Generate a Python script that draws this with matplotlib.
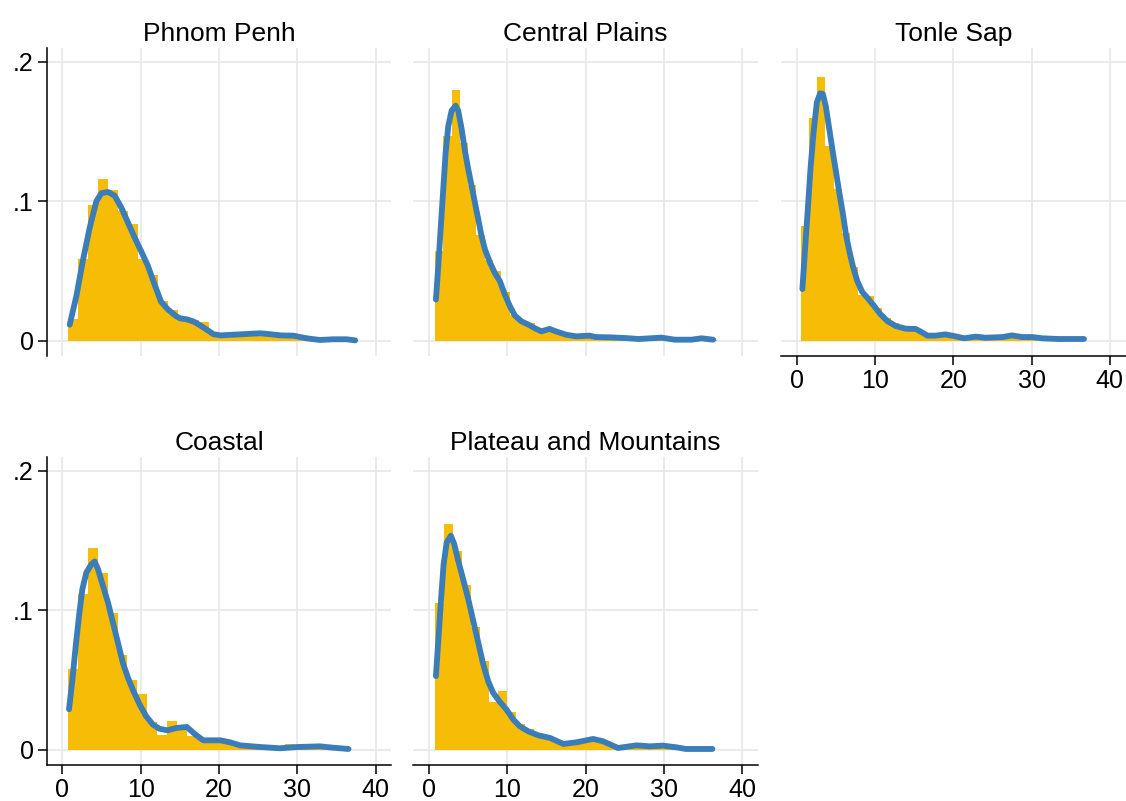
import numpy as np
import matplotlib
matplotlib.use("Agg")
import matplotlib.pyplot as plt

plt.rcParams['font.family'] = ['Liberation Sans', 'DejaVu Sans']

# histogram bins: first edge, bin width, bar heights (density)
pp_start, pp_width = 0.75, 1.28
pp_bars = [0.0156, 0.0588, 0.097, 0.116, 0.108, 0.093, 0.0835, 0.0588, 0.0468, 0.0285,
           0.022, 0.017, 0.0145, 0.0137, 0.005, 0.004, 0.004, 0.005, 0.005, 0.006,
           0.006, 0.005, 0.004, 0.003, 0.001, 0.0005, 0.0005, 0.0005]
pp_kx = [0.94, 1.79, 2.64, 3.49, 4.34, 4.98, 5.83, 6.68, 7.53, 8.38, 9.23, 10.08, 10.94,
         11.8, 12.6, 13.5, 14.55, 15.06, 15.9, 16.77, 17.6, 18.5, 19.3, 20.2, 21.9, 23.6,
         25.3, 26.6, 27.8, 29.5, 31.2, 32.9, 34.6, 36.3, 37.4]
pp_ky = [0.0115, 0.032, 0.058, 0.081, 0.100, 0.1058, 0.1067, 0.104, 0.0955, 0.0847, 0.074,
         0.064, 0.0535, 0.040, 0.028, 0.0223, 0.0175, 0.016, 0.0153, 0.0137, 0.011, 0.0077,
         0.0046, 0.0038, 0.0043, 0.0048, 0.0053, 0.0046, 0.0038, 0.0036, 0.0017, 0.0005,
         0.001, 0.001, 0.0002]

cp_start, cp_width = 0.77, 1.06
cp_bars = [0.064, 0.1465, 0.180, 0.142, 0.112, 0.076, 0.058, 0.050, 0.035, 0.0187,
           0.0139, 0.013, 0.008, 0.007, 0.006, 0.005, 0.004, 0.003, 0.003, 0.003,
           0.002, 0.002, 0.002, 0.002, 0.0015, 0.0015, 0.001, 0.002, 0.001, 0.0005,
           0.0005, 0.001, 0.001, 0.0005]
cp_kx = [0.89, 1.19, 1.49, 1.83, 2.13, 2.47, 2.89, 3.4, 3.74, 4.17, 4.6, 5.02, 5.45, 5.87,
         6.3, 6.72, 7.15, 7.8, 8.4, 9.06, 9.7, 10.34, 10.98, 11.8, 12.7, 13.5, 14.35, 15.4,
         16.2, 17.5, 18.8, 20.5, 21.3, 23.0, 25.1, 26.8, 29.7, 31.4, 33.5, 34.8, 36.3]
cp_ky = [0.0295, 0.0535, 0.080, 0.109, 0.135, 0.154, 0.165, 0.1686, 0.165, 0.152, 0.136,
         0.123, 0.111, 0.099, 0.087, 0.075, 0.0655, 0.056, 0.0487, 0.0427, 0.033, 0.0247,
         0.018, 0.0139, 0.0115, 0.009, 0.0067, 0.0084, 0.0067, 0.0043, 0.0031, 0.0036,
         0.0026, 0.0024, 0.0019, 0.0012, 0.0022, 0.0007, 0.0007, 0.0017, 0.0007]

ts_start, ts_width = 0.56, 1.04
ts_bars = [0.082, 0.160, 0.189, 0.140, 0.109, 0.0775, 0.053, 0.033, 0.032, 0.0237,
           0.016, 0.013, 0.0107, 0.0107, 0.008, 0.003, 0.003, 0.003, 0.003, 0.002,
           0.002, 0.002, 0.002, 0.002, 0.002, 0.003, 0.003, 0.002, 0.002, 0.001,
           0.001, 0.001, 0.001, 0.001, 0.001]
ts_kx = [0.73, 1.07, 1.42, 1.76, 2.15, 2.58, 3.0, 3.35, 3.73, 4.16, 4.6, 5.0, 5.45, 5.88,
         6.3, 6.74, 7.17, 7.73, 8.37, 9.0, 9.87, 10.7, 11.6, 12.66, 13.9, 15.2, 16.0, 16.7,
         17.7, 19.0, 20.3, 21.4, 22.85, 24.1, 26.3, 27.5, 28.8, 30.1, 31.4, 33.5, 35.2, 36.7]
ts_ky = [0.037, 0.0655, 0.094, 0.123, 0.149, 0.171, 0.1775, 0.177, 0.168, 0.152, 0.136,
         0.122, 0.106, 0.092, 0.076, 0.064, 0.0536, 0.043, 0.035, 0.031, 0.025, 0.019,
         0.014, 0.0105, 0.0086, 0.0084, 0.006, 0.0036, 0.0036, 0.0045, 0.0031, 0.0017,
         0.0029, 0.0021, 0.0026, 0.0038, 0.0026, 0.0026, 0.0017, 0.0012, 0.0012, 0.0012]

co_start, co_width = 0.75, 1.26
co_bars = [0.058, 0.1115, 0.145, 0.127, 0.098, 0.0676, 0.050, 0.0396, 0.020, 0.0108,
           0.0204, 0.0156, 0.0096, 0.008, 0.0084, 0.0072, 0.0043, 0.004, 0.003, 0.002,
           0.002, 0.0015, 0.0043, 0.002, 0.002, 0.002, 0.001, 0.0005]
co_kx = [0.85, 1.28, 1.7, 2.13, 2.55, 3.06, 3.7, 4.13, 4.55, 5.19, 5.83, 6.47, 7.1, 7.74,
         8.38, 9.0, 9.87, 10.7, 11.57, 12.4, 13.4, 14.6, 15.9, 17.0, 18.0, 20.2, 21.4, 22.7,
         25.3, 27.8, 30.0, 32.9, 34.6, 36.55]
co_ky = [0.029, 0.050, 0.074, 0.096, 0.115, 0.127, 0.133, 0.135, 0.1295, 0.1175, 0.1055,
         0.091, 0.0767, 0.062, 0.0516, 0.043, 0.0324, 0.024, 0.018, 0.015, 0.0139, 0.0156,
         0.0163, 0.0108, 0.0067, 0.0067, 0.0053, 0.0031, 0.0019, 0.001, 0.0019, 0.0024,
         0.0014, 0.0005]

pm_start, pm_width = 0.77, 1.15
pm_bars = [0.1055, 0.162, 0.1427, 0.118, 0.088, 0.0635, 0.034, 0.042, 0.027, 0.0185,
           0.015, 0.012, 0.009, 0.006, 0.004, 0.004, 0.007, 0.009, 0.007, 0.004,
           0.001, 0.002, 0.003, 0.003, 0.002, 0.002, 0.001, 0.0005, 0.0005, 0.0005, 0.0005]
pm_kx = [0.89, 1.19, 1.53, 1.87, 2.26, 2.8, 3.23, 3.74, 4.38, 5.02, 5.66, 6.3, 6.94, 7.57,
         8.2, 9.06, 9.9, 10.77, 11.6, 12.68, 13.96, 15.47, 17.16, 18.86, 20.97, 22.25,
         24.15, 26.5, 28.2, 29.9, 31.6, 32.8, 34.5, 36.2]
pm_ky = [0.0528, 0.078, 0.1067, 0.133, 0.1487, 0.1535, 0.1475, 0.1355, 0.122, 0.108,
         0.0923, 0.0767, 0.061, 0.049, 0.0408, 0.0343, 0.0288, 0.0216, 0.0168, 0.0132,
         0.0103, 0.0084, 0.0041, 0.0053, 0.0077, 0.006, 0.0012, 0.0031, 0.0024, 0.0029,
         0.0017, 0.0005, 0.0005, 0.0005]

panels = [
    ("Phnom Penh", pp_start, pp_width, pp_bars, pp_kx, pp_ky),
    ("Central Plains", cp_start, cp_width, cp_bars, cp_kx, cp_ky),
    ("Tonle Sap", ts_start, ts_width, ts_bars, ts_kx, ts_ky),
    ("Coastal", co_start, co_width, co_bars, co_kx, co_ky),
    ("Plateau and Mountains", pm_start, pm_width, pm_bars, pm_kx, pm_ky),
]

W, H = 1126, 801
fig = plt.figure(figsize=(W / 100, H / 100), dpi=100)

# panel boxes in pixels: left, top, bottom
lefts = [46.7, 413.3, 781]
rows = [(48, 356), (457, 765)]
pos = [(lefts[0], rows[0]), (lefts[1], rows[0]), (lefts[2], rows[0]),
       (lefts[0], rows[1]), (lefts[1], rows[1])]
show_y = [True, False, False, True, False]
show_x = [False, False, True, True, True]

bar_col = '#F6BC06'
line_col = '#3A7DB8'

for (title, start, width, bars, kx, ky), (l, (t, b)), sy, sx in zip(panels, pos, show_y, show_x):
    wpx = 344.5
    ax = fig.add_axes([l / W, 1 - b / H, wpx / W, (b - t) / H])
    edges = start + width * np.arange(len(bars))
    ax.bar(edges, bars, width=width, align='edge', color=bar_col, linewidth=0, zorder=2)
    ax.plot(kx, ky, color=line_col, lw=4.2, solid_capstyle='round',
            solid_joinstyle='round', zorder=3)
    ax.set_xlim(-2, 42)
    ax.set_ylim(-0.011, 0.21)
    ax.set_xticks([0, 10, 20, 30, 40])
    ax.set_yticks([0, 0.1, 0.2])
    ax.set_yticklabels(['0', '.1', '.2'])
    ax.grid(True, color='#e6e6e6', lw=1.1, zorder=0)
    ax.set_axisbelow(True)
    for s in ax.spines.values():
        s.set_visible(False)
    ax.spines['left'].set_visible(sy)
    ax.spines['bottom'].set_visible(sx)
    ax.spines['left'].set_linewidth(1.1)
    ax.spines['bottom'].set_linewidth(1.1)
    ax.tick_params(axis='y', left=sy, labelleft=sy, length=6.5, width=1.1,
                   labelsize=18, pad=3)
    ax.tick_params(axis='x', bottom=sx, labelbottom=sx, length=6.5, width=1.1,
                   labelsize=18, pad=3)
    ax.set_title(title, fontsize=19, pad=5)

fig.savefig('out.png', dpi=100)
